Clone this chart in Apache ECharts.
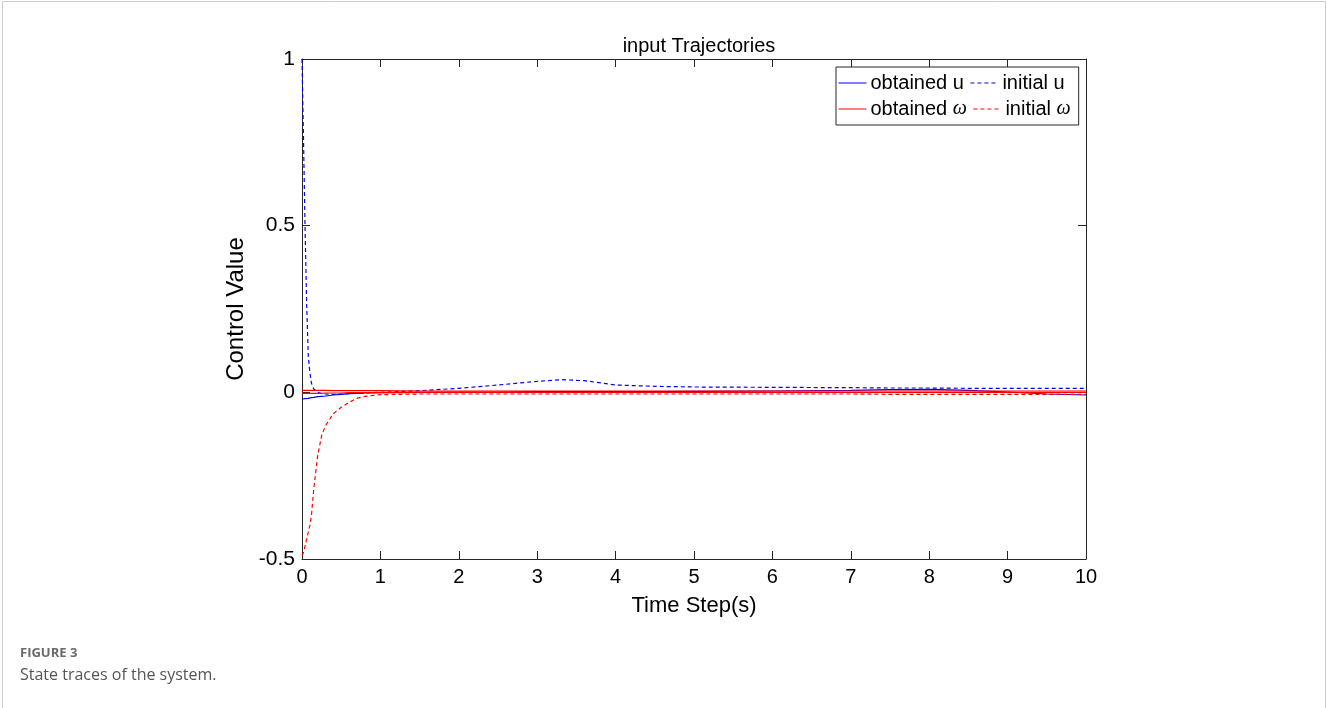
<!DOCTYPE html>
<html>
<head>
<meta charset="utf-8">
<script src="https://cdn.jsdelivr.net/npm/echarts@6/dist/echarts.min.js"></script>
<style>
  html, body { margin: 0; padding: 0; background: #fff; }
  #chart { width: 1327px; height: 708px; }
</style>
</head>
<body>
<div id="chart"></div>
<script>
// 时间轴 (s)
const timeSteps = [0, 0.02, 0.04, 0.06, 0.08, 0.1, 0.12, 0.15, 0.2, 0.25, 0.3, 0.4, 0.5, 0.6, 0.7, 0.8,
  1, 1.5, 2, 2.5, 3, 3.3, 3.6, 4, 4.5, 5, 6, 7, 7.5, 8, 8.5, 9, 9.5, 10];

const obtainedU = [-0.02, -0.02, -0.019, -0.019, -0.018, -0.017, -0.016, -0.015, -0.013, -0.012, -0.011, -0.008, -0.006, -0.004, -0.003, -0.002,
  -0.001, 0, 0.001, 0.001, 0.002, 0.002, 0.002, 0.002, 0.002, 0.003, 0.004, 0.006, 0.008, 0.009, 0.006, 0.001, -0.005, -0.008];

const initialU = [1, 0.75, 0.48, 0.26, 0.11, 0.06, 0.028, 0.01, 0, -0.004, -0.005, -0.006, -0.005, -0.004, -0.003, -0.002,
  0, 0.005, 0.012, 0.022, 0.033, 0.038, 0.035, 0.022, 0.018, 0.016, 0.015, 0.014, 0.013, 0.013, 0.012, 0.012, 0.012, 0.012];

const obtainedW1 = [0.006, 0.006, 0.006, 0.006, 0.006, 0.006, 0.006, 0.006, 0.006, 0.006, 0.006, 0.005, 0.005, 0.005, 0.005, 0.005,
  0.005, 0.004, 0.004, 0.004, 0.004, 0.004, 0.004, 0.004, 0.004, 0.004, 0.004, 0.004, 0.004, 0.004, 0.004, 0.004, 0.004, 0.004];

const obtainedW2 = [-0.003, -0.003, -0.003, -0.003, -0.003, -0.003, -0.003, -0.003, -0.003, -0.003, -0.002, -0.002, -0.002, -0.001, -0.001, -0.001,
  -0.001, 0, 0, 0, 0, 0, 0, 0, 0, 0, 0, 0, 0, 0, 0, 0, 0, 0];

const initialW = [-0.49, -0.48, -0.46, -0.44, -0.42, -0.40, -0.37, -0.29, -0.19, -0.13, -0.10, -0.064, -0.045, -0.03, -0.018, -0.012,
  -0.007, -0.005, -0.005, -0.005, -0.005, -0.005, -0.005, -0.005, -0.005, -0.005, -0.005, -0.005, -0.006, -0.006, -0.006, -0.006, -0.006, -0.006];

const xTicks = [0, 10, 1];
const yTicks = [-0.5, 1, 0.5];

const pairs = (vals) => timeSteps.map((t, i) => [t, vals[i]]);

const chart = echarts.init(document.getElementById('chart'));
const font = '"Liberation Sans", Arial, sans-serif';
const axisColor = '#262626';

const lineSeries = (name, vals, color, type) => ({
  name,
  type: 'line',
  data: pairs(vals),
  showSymbol: false,
  symbol: 'none',
  smooth: false,
  animation: false,
  lineStyle: { width: 1.2, color, type: type === 'dashed' ? [4, 3] : 'solid' },
  itemStyle: { color }
});

const axisCommon = {
  axisLine: { show: true, onZero: false, lineStyle: { color: axisColor, width: 1 } },
  axisTick: { show: true, inside: true, length: 8, lineStyle: { color: axisColor } },
  splitLine: { show: false }
};

chart.setOption({
  animation: false,
  title: {
    text: 'input Trajectories',
    left: 694,
    textAlign: 'center',
    top: 31,
    textStyle: { fontFamily: font, fontSize: 20, fontWeight: 'normal', color: '#000' }
  },
  grid: { left: 302, right: 241, top: 59, bottom: 149 },
  legend: {
    left: 836,
    top: 67,
    width: 250,
    padding: [6, 8, 6, 2],
    itemGap: 6,
    itemWidth: 28,
    itemHeight: 14,
    borderColor: axisColor,
    borderWidth: 1,
    backgroundColor: '#fff',
    itemStyle: { opacity: 0 },
    lineStyle: { width: 1 },
    data: ['obtained u', 'initial u', 'obtained ω', 'initial ω'],
    formatter: (name) => name.replace('ω', '{w|ω}'),
    textStyle: {
      fontFamily: font,
      fontSize: 20,
      color: '#000',
      padding: [0, 0, 0, -1],
      rich: { w: { fontFamily: '"Liberation Serif", serif', fontStyle: 'italic', fontSize: 20 } }
    }
  },
  xAxis: [
    Object.assign({
      type: 'value', min: xTicks[0], max: xTicks[1], interval: xTicks[2],
      name: 'Time Step(s)', nameLocation: 'middle', nameGap: 36,
      nameTextStyle: { fontFamily: font, fontSize: 22, color: '#000' },
      axisLabel: { fontFamily: font, fontSize: 20, color: '#000', margin: 8 }
    }, axisCommon),
    Object.assign({
      type: 'value', min: xTicks[0], max: xTicks[1], interval: xTicks[2], position: 'top',
      axisLabel: { show: false }
    }, axisCommon)
  ],
  yAxis: [
    Object.assign({
      type: 'value', min: yTicks[0], max: yTicks[1], interval: yTicks[2],
      name: 'Control Value', nameLocation: 'middle', nameGap: 44,
      nameTextStyle: { fontFamily: font, fontSize: 24, color: '#000' },
      axisLabel: { fontFamily: font, fontSize: 21, color: '#000', margin: 7 }
    }, axisCommon),
    Object.assign({
      type: 'value', min: yTicks[0], max: yTicks[1], interval: yTicks[2], position: 'right',
      axisLabel: { show: false }
    }, axisCommon)
  ],
  series: [
    lineSeries('obtained u', obtainedU, '#0000ff', 'solid'),
    lineSeries('initial u', initialU, '#0000ff', 'dashed'),
    lineSeries('obtained ω', obtainedW1, '#ff0000', 'solid'),
    lineSeries('obtained ω', obtainedW2, '#ff0000', 'solid'),
    lineSeries('initial ω', initialW, '#ff0000', 'dashed')
  ],
  graphic: [
    {
      type: 'polyline',
      shape: { points: [[2.5, 708], [2.5, 1.5], [1325.5, 1.5], [1325.5, 708]] },
      style: { stroke: '#cfcfcf', lineWidth: 1, fill: null },
      silent: true
    },
    {
      type: 'text',
      left: 20,
      top: 647,
      style: { text: 'FIGURE 3', fontFamily: '"Open Sans", sans-serif', fontSize: 13, fontWeight: 'bold', fill: '#6a6a6a' }
    },
    {
      type: 'text',
      left: 20,
      top: 667,
      style: { text: 'State traces of the system.', fontFamily: '"Open Sans", sans-serif', fontSize: 16, fill: '#555' }
    }
  ]
});
</script>
</body>
</html>
